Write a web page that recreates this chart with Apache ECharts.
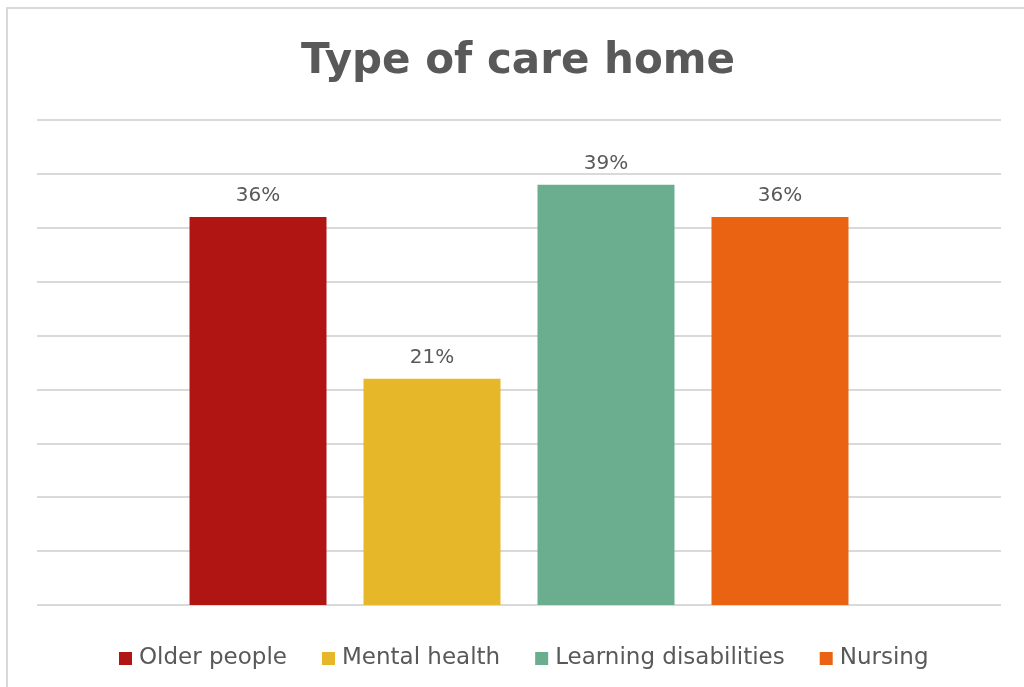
<!DOCTYPE html>
<html>
<head>
<meta charset="utf-8">
<script src="https://cdn.jsdelivr.net/npm/echarts@6/dist/echarts.min.js"></script>
<style>
  html, body { margin: 0; padding: 0; background: #ffffff; }
  #chart { width: 1024px; height: 687px; }
</style>
</head>
<body>
<div id="chart"></div>
<script>
// Share of responses by type of care home (percent)
const titleText = 'Type of care home';
const categories = ['Type of care home'];
const seriesNames = ['Older people', 'Mental health', 'Learning disabilities', 'Nursing'];
const seriesValues = [36, 21, 39, 36];
const seriesColors = ['#B01513', '#E6B729', '#6AAE8F', '#EA6312'];

const textColor = '#595959';
const gridColor = '#D9D9D9';

const chart = echarts.init(document.getElementById('chart'), null, { renderer: 'canvas' });

const series = seriesNames.map((name, i) => ({
  name: name,
  type: 'bar',
  data: [seriesValues[i]],
  barWidth: 137,
  barGap: '27%',
  itemStyle: { color: seriesColors[i] },
  label: {
    show: true,
    position: 'top',
    distance: 11,
    formatter: '{c}%',
    color: textColor,
    fontFamily: 'DejaVu Sans',
    fontSize: 20
  }
}));

chart.setOption({
  animation: false,
  backgroundColor: '#ffffff',
  graphic: [{
    type: 'rect',
    shape: { x: 7, y: 8, width: 1040, height: 700 },
    style: { fill: 'none', stroke: gridColor, lineWidth: 2 },
    silent: true,
    z: -1
  }],
  title: {
    text: titleText,
    left: 296,
    top: 36,
    textStyle: {
      color: textColor,
      fontFamily: 'DejaVu Sans',
      fontWeight: 'bold',
      fontSize: 42
    }
  },
  legend: {
    data: seriesNames,
    bottom: 12,
    left: 114,
    icon: 'rect',
    itemWidth: 13,
    itemHeight: 13,
    itemGap: 35,
    textStyle: {
      color: textColor,
      fontFamily: 'DejaVu Sans',
      fontSize: 23,
      padding: [0, 0, 0, 2]
    }
  },
  grid: { left: 37, right: 23, top: 120, bottom: 82 },
  xAxis: {
    type: 'category',
    data: categories,
    axisLine: { show: false },
    axisTick: { show: false },
    axisLabel: { show: false }
  },
  yAxis: {
    type: 'value',
    min: 0,
    max: 45,
    interval: 5,
    axisLine: { show: false },
    axisTick: { show: false },
    axisLabel: { show: false },
    splitLine: { lineStyle: { color: gridColor, width: 2 } }
  },
  series: series
});
</script>
</body>
</html>
